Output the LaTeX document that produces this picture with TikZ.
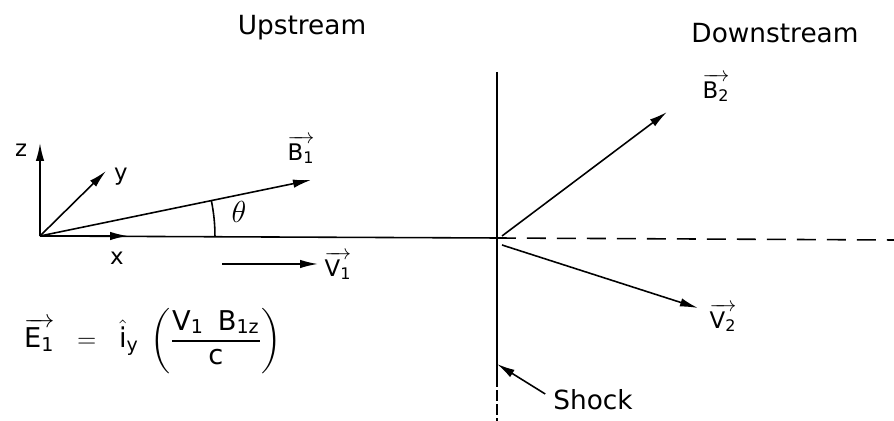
\documentclass[tikz,border=0pt]{standalone}
\usepackage{amsmath,amssymb}
\usepackage{fontspec}
\setmainfont{DejaVu Sans}
\usetikzlibrary{positioning,arrows.meta,calc}

\begin{document}
\begin{tikzpicture}[x=0.02cm,y=-0.02cm,>={Latex[length=3.6mm,width=1.7mm]},
  vec/.style={->,line width=0.9pt},
  lab/.style={font=\fontsize{13}{15}\selectfont,inner sep=1pt}]
\useasboundingbox (0,0) rectangle (894,421);
% titles
\node[font=\fontsize{15}{18}\selectfont] (up) at (302,28) {Upstream};
\node[font=\fontsize{15}{18}\selectfont] (down) at (775,33) {Downstream};
% upstream axes
\coordinate (O) at (40,236);
\coordinate (ztip) at (40,143);
\coordinate (ytip) at (106,171);
\coordinate (xtip) at (128,236);
\node[lab] (zlab) at (21,150) {z};
\node[lab] (ylab) at (121,177) {y};
\node[lab] (xlab) at (117,258) {x};
\draw[vec] (O) -- (ztip);
\draw[vec] (O) -- (ytip);
\coordinate (shockC) at (497,238);
\draw[line width=0.9pt] (O) -- (shockC);
\draw[vec] (O) -- (xtip);
% upstream field and flow
\coordinate (B1tip) at (311,180);
\draw[vec] (O) -- (B1tip);
\node[lab] (B1lab) at (301,150) {$\overrightarrow{\mathrm{B}_{\mathrm{1}}}$};
\draw[line width=0.9pt] ($(O)+(0:3.5cm)$) arc[start angle=0,end angle=11.7,radius=3.5cm];
\node[lab,font=\fontsize{17}{19}\selectfont] (theta) at (239,212) {$\theta$};
\coordinate (V1tail) at (222,264);
\coordinate (V1tip) at (318,264);
\draw[vec] (V1tail) -- (V1tip);
\node[lab] (V1lab) at (338,266) {$\overrightarrow{\mathrm{V}_{\mathrm{1}}}$};
\node[lab,font=\fontsize{15.5}{18}\selectfont] (E1) at (153,341) {$\overrightarrow{\mathrm{E}_{\mathrm{1}}}\ \;=\ \;\hat{\mathrm{i}}_{\mathrm{y}}\;\left(\dfrac{\mathrm{V}_{\mathrm{1}}\;\;\mathrm{B}_{\mathrm{1z}}}{\mathrm{c}}\right)$};
% shock
\coordinate (shtop) at (497,72);
\coordinate (shmid) at (497,376);
\coordinate (shbot) at (497,421);
\draw[line width=0.9pt] (shtop) -- (shmid);
\draw[line width=0.9pt,dash pattern=on 6pt off 2pt] (shmid) -- (shbot);
\coordinate (shpt) at (497,364);
\node[lab,font=\fontsize{15}{18}\selectfont] (shock) at (593,400) {Shock};
\draw[->,line width=0.9pt] (shock.west) ++(-6,-6) coordinate (shtail) -- (shpt);
% downstream
\coordinate (B2base) at (502,236);
\coordinate (B2tip) at (667,112);
\coordinate (V2base) at (502,245);
\coordinate (V2tip) at (698,308);
\coordinate (dashend) at (894,240);
\draw[line width=0.9pt,dash pattern=on 0.38cm off 0.22cm] (shockC) -- (dashend);
\draw[vec] (B2base) -- (B2tip);
\draw[vec] (V2base) -- (V2tip);
\node[lab] (B2lab) at (716,88) {$\overrightarrow{\mathrm{B}_{\mathrm{2}}}$};
\node[lab] (V2lab) at (723,318) {$\overrightarrow{\mathrm{V}_{\mathrm{2}}}$};
\end{tikzpicture}
\end{document}
